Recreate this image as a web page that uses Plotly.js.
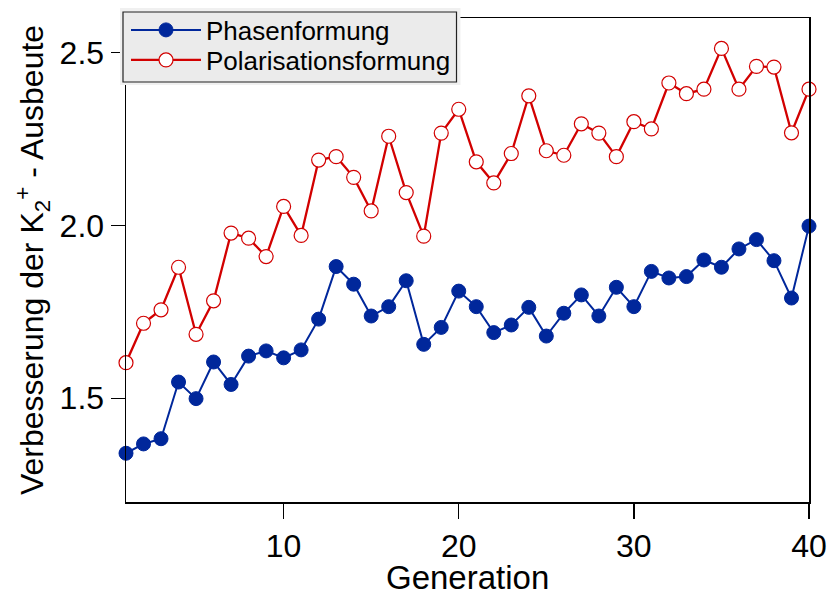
<!DOCTYPE html>
<html>
<head>
<meta charset="utf-8">
<script src="https://cdn.plot.ly/plotly-3.0.1.min.js"></script>
<style>html,body{margin:0;padding:0;background:#fff;}#chart{width:827px;height:590px;}</style>
</head>
<body>
<div id="chart"></div>
<script>
const generations = Array.from({length: 40}, (_, i) => i + 1);
const phasenformung = [1.341, 1.368, 1.383, 1.547, 1.499, 1.605, 1.540, 1.622, 1.637, 1.617,
  1.640, 1.729, 1.881, 1.830, 1.738, 1.765, 1.840, 1.656, 1.705, 1.810,
  1.765, 1.690, 1.712, 1.763, 1.680, 1.746, 1.799, 1.738, 1.821, 1.765,
  1.867, 1.848, 1.852, 1.900, 1.879, 1.932, 1.959, 1.898, 1.790, 1.998];
const polarisationsformung = [1.603, 1.717, 1.756, 1.879, 1.685, 1.782, 1.978, 1.963, 1.910, 2.055,
  1.971, 2.189, 2.199, 2.139, 2.042, 2.258, 2.095, 1.969, 2.267, 2.336,
  2.184, 2.123, 2.208, 2.375, 2.216, 2.203, 2.294, 2.267, 2.199, 2.300,
  2.279, 2.412, 2.381, 2.394, 2.512, 2.394, 2.460, 2.458, 2.268, 2.394];
const seriesNames = ['Phasenformung', 'Polarisationsformung'];
const xTicks = [10, 20, 30, 40];
const yTicks = [1.5, 2.0, 2.5];
const yTickLabels = ['1.5', '2.0', '2.5'];
const xTitle = 'Generation';
const yTitle = 'Verbesserung der K<sub>2</sub><sup>+</sup> - Ausbeute';

const blue = '#00279b';
const red = '#d20000';
const font = 'Liberation Sans, Arial, sans-serif';

const traces = [
  {x: generations, y: phasenformung, name: seriesNames[0], type: 'scatter', mode: 'lines+markers', legend: 'legend',
   line: {color: blue, width: 2}, marker: {color: blue, size: 14, line: {color: blue, width: 1}}, cliponaxis: false},
  {x: generations, y: polarisationsformung, name: seriesNames[1], type: 'scatter', mode: 'lines+markers', legend: 'legend2',
   line: {color: red, width: 2.3}, marker: {color: '#ffffff', size: 14, line: {color: red, width: 1.2}}, cliponaxis: false}
];

const legendBase = {x: 0, xanchor: 'left', yanchor: 'middle', bgcolor: 'rgba(0,0,0,0)', borderwidth: 0,
  font: {size: 26, family: font, color: '#000'}, itemwidth: 70};

const layout = {
  width: 827, height: 590,
  margin: {l: 126, r: 18, t: 18, b: 88, autoexpand: false},
  paper_bgcolor: '#ffffff', plot_bgcolor: '#ffffff',
  font: {family: font, color: '#000'},
  showlegend: true,
  legend: Object.assign({}, legendBase, {y: 0.9752}),
  legend2: Object.assign({}, legendBase, {y: 0.9132}),
  xaxis: {range: [1, 40], tickvals: xTicks, ticktext: xTicks.map(String), ticks: 'outside', ticklen: 15, tickwidth: 1.5, tickcolor: '#000',
    showline: true, linecolor: '#000', linewidth: 1.5, mirror: true, showgrid: false, zeroline: false,
    tickfont: {size: 32, family: font}},
  yaxis: {range: [1.2, 2.6], tickvals: yTicks, ticktext: yTickLabels, ticks: 'outside', ticklen: 14, tickwidth: 1.5, tickcolor: '#000',
    showline: true, linecolor: '#000', linewidth: 1.5, mirror: true, showgrid: false, zeroline: false,
    tickfont: {size: 32, family: font}, title: {text: yTitle, font: {size: 32, family: font}, standoff: 6}},
  annotations: [
    {text: xTitle, xref: 'paper', yref: 'paper', x: 0.5, y: -0.155, xanchor: 'center', yanchor: 'middle',
     showarrow: false, font: {size: 33, family: font, color: '#000'}}
  ],
  shapes: [
    {type: 'rect', xref: 'paper', yref: 'paper', layer: 'above', x0: -0.0088, x1: 0.4897, y0: 0.8616, y1: 1.0207,
     fillcolor: '#f0f0f0', line: {width: 0}},
    {type: 'rect', xref: 'paper', yref: 'paper', layer: 'above', x0: -0.0044, x1: 0.4839, y0: 0.8678, y1: 1.0124,
     fillcolor: '#ebebeb', line: {width: 1.2, color: '#222'}}
  ]
};

Plotly.newPlot('chart', traces, layout, {displayModeBar: false, staticPlot: true});
</script>
</body>
</html>
